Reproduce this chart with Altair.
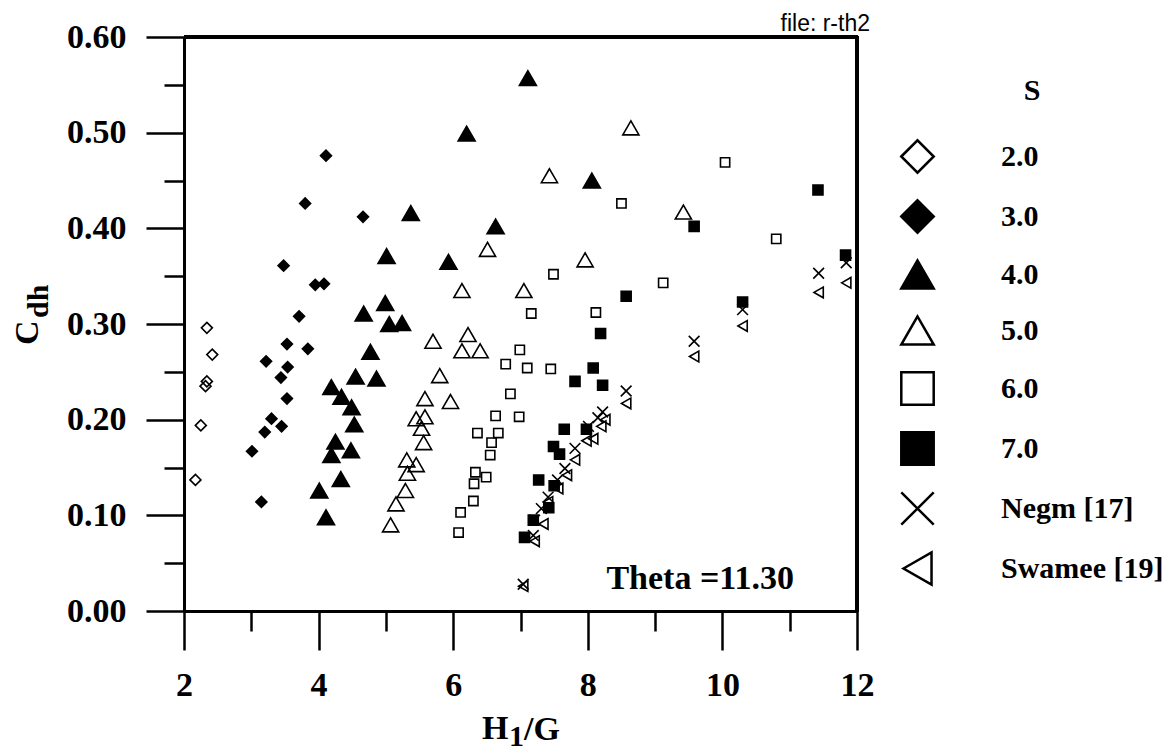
import altair as alt
import pandas as pd

# ---------------- data ----------------
series_names = ["2.0", "3.0", "4.0", "5.0", "6.0", "7.0", "Negm [17]", "Swamee [19]"]

s2_x = [2.34, 2.42, 2.34, 2.32, 2.25, 2.17]
s2_y = [0.296, 0.268, 0.240, 0.235, 0.194, 0.137]

s3_x = [4.11, 3.80, 4.66, 3.48, 3.95, 4.08, 3.71, 3.53, 3.84, 3.22, 3.54, 3.44, 3.53, 3.30, 3.20, 3.45, 3.01, 3.15]
s3_y = [0.476, 0.426, 0.412, 0.361, 0.341, 0.342, 0.308, 0.279, 0.274, 0.261, 0.255, 0.244, 0.222, 0.201, 0.187, 0.193, 0.167, 0.114]

s4_x = [7.11, 6.20, 8.06, 6.63, 5.93, 5.37, 5.01, 4.99, 4.67, 5.05, 5.24, 4.77, 4.55, 4.86, 4.19, 4.34, 4.49, 4.53, 4.25, 4.48, 4.19, 4.33, 4.01, 4.11]
s4_y = [0.557, 0.499, 0.450, 0.402, 0.365, 0.416, 0.371, 0.322, 0.311, 0.300, 0.301, 0.271, 0.245, 0.243, 0.234, 0.224, 0.213, 0.195, 0.177, 0.168, 0.163, 0.138, 0.126, 0.098]

s5_x = [8.64, 7.43, 9.42, 6.51, 7.96, 6.13, 7.05, 6.22, 5.70, 6.13, 6.40, 5.80, 5.96, 5.58, 5.45, 5.58, 5.53, 5.56, 5.31, 5.45, 5.32, 5.29, 5.15, 5.07]
s5_y = [0.505, 0.455, 0.417, 0.378, 0.367, 0.335, 0.335, 0.289, 0.282, 0.272, 0.272, 0.246, 0.219, 0.222, 0.201, 0.203, 0.191, 0.176, 0.158, 0.153, 0.144, 0.126, 0.112, 0.090]

s6_x = [10.04, 8.50, 10.80, 7.49, 9.12, 7.16, 8.12, 6.99, 6.78, 7.10, 7.45, 6.85, 6.63, 6.98, 6.36, 6.67, 6.57, 6.55, 6.33, 6.49, 6.31, 6.30, 6.11, 6.08]
s6_y = [0.469, 0.426, 0.389, 0.352, 0.343, 0.311, 0.312, 0.273, 0.258, 0.254, 0.253, 0.227, 0.204, 0.203, 0.186, 0.186, 0.176, 0.163, 0.145, 0.140, 0.133, 0.115, 0.103, 0.082]

s7_x = [7.06, 7.19, 7.42, 7.27, 7.50, 7.49, 7.58, 7.65, 7.98, 7.81, 8.08, 8.22, 8.19, 8.57, 9.58, 10.30, 11.42, 11.83]
s7_y = [0.077, 0.095, 0.108, 0.137, 0.131, 0.172, 0.164, 0.190, 0.190, 0.240, 0.254, 0.236, 0.290, 0.329, 0.402, 0.323, 0.440, 0.372]

negm_x = [7.04, 7.19, 7.21, 7.31, 7.41, 7.55, 7.66, 7.81, 8.01, 8.15, 8.22, 8.57, 9.58, 10.30, 11.43, 11.84]
negm_y = [0.028, 0.079, 0.095, 0.107, 0.119, 0.137, 0.149, 0.170, 0.193, 0.202, 0.208, 0.230, 0.282, 0.315, 0.353, 0.364]

swamee_x = [7.04, 7.21, 7.34, 7.41, 7.56, 7.69, 7.81, 7.98, 8.08, 8.20, 8.26, 8.57, 9.58, 10.30, 11.43, 11.84]
swamee_y = [0.026, 0.073, 0.091, 0.114, 0.128, 0.142, 0.158, 0.178, 0.180, 0.193, 0.200, 0.217, 0.266, 0.298, 0.333, 0.343]

x_tick_values = [2, 3, 4, 5, 6, 7, 8, 9, 10, 11, 12]
y_tick_values = [0.00, 0.05, 0.10, 0.15, 0.20, 0.25, 0.30, 0.35, 0.40, 0.45, 0.50, 0.55, 0.60]

annot_text = ["Theta =11.30"]
annot_x = [9.67]
annot_y = [0.0225]

# ---------------- styling ----------------
X_PATH = "M-1,-1L1,1M1,-1L-1,1"
shape_range = ["diamond", "diamond", "triangle-up", "triangle-up", "square", "square", X_PATH, "triangle-left"]
fill_range = ["transparent", "black", "black", "transparent", "transparent", "black", "transparent", "transparent"]
stroke_range = ["black"] * 8
marker_sizes = [120, 120, 290, 260, 85, 100, 115, 115]

SERIF = "Liberation Serif"
W, H = 673, 574

xs = [s2_x, s3_x, s4_x, s5_x, s6_x, s7_x, negm_x, swamee_x]
ys = [s2_y, s3_y, s4_y, s5_y, s6_y, s7_y, negm_y, swamee_y]
rows = []
for name, sx, sy in zip(series_names, xs, ys):
    for a, b in zip(sx, sy):
        rows.append({"x": a, "y": b, "S": name})
df = pd.DataFrame(rows)

xscale = alt.Scale(domain=[2, 12], nice=False, zero=False)
yscale = alt.Scale(domain=[0, 0.6], nice=False, zero=True)

x_axis = alt.Axis(
    values=x_tick_values,
    labelExpr="datum.value % 2 == 0 ? datum.value : ''",
    tickSize={"condition": {"test": "datum.value % 2 == 0", "value": 39}, "value": 20},
    title=None, grid=False,
    labelFont=SERIF, labelFontWeight="bold", labelFontSize=34, labelColor="black",
    labelPadding=18, tickWidth=2.5, tickColor="black", domainWidth=3, domainColor="black",
    labelFlush=False, labelOverlap=False,
)
y_axis = alt.Axis(
    values=y_tick_values,
    labelExpr="round(datum.value*100) % 10 == 0 ? format(datum.value, '.2f') : ''",
    tickSize={"condition": {"test": "round(datum.value*100) % 10 == 0", "value": 38}, "value": 20},
    title=None, grid=False,
    labelFont=SERIF, labelFontWeight="bold", labelFontSize=34, labelColor="black",
    labelPadding=20, tickWidth=2.5, tickColor="black", domainWidth=3, domainColor="black",
    labelFlush=False, labelOverlap=False,
)

legend = alt.Legend(
    title="S", orient="none", legendX=716, legendY=39, direction="vertical",
    titleFont=SERIF, titleFontSize=30, titleFontWeight="bold", titleColor="black",
    titleAnchor="middle", titleAlign="center", titlePadding=33, titleBaseline="top",
    labelFont=SERIF, labelFontSize=30, labelFontWeight="bold", labelColor="black",
    labelLimit=400,
    symbolSize=1050, symbolStrokeWidth=2.5,
    labelOffset=66, rowPadding=17, padding=0, symbolOpacity=1,
)

shape_scale = alt.Scale(domain=series_names, range=shape_range)
fill_scale = alt.Scale(domain=series_names, range=fill_range)
stroke_scale = alt.Scale(domain=series_names, range=stroke_range)

point_layers = []
for name, msize in zip(series_names, marker_sizes):
    point_layers.append(
        alt.Chart(df).transform_filter(alt.datum.S == name)
        .mark_point(opacity=1, strokeWidth=1.6, size=msize)
        .encode(
            x=alt.X("x:Q", scale=xscale, axis=x_axis),
            y=alt.Y("y:Q", scale=yscale, axis=y_axis),
            shape=alt.Shape("S:N", scale=shape_scale, legend=legend),
            fill=alt.Fill("S:N", scale=fill_scale, legend=legend),
            stroke=alt.Stroke("S:N", scale=stroke_scale, legend=legend),
        )
    )

right_border = alt.Chart(df).mark_rule(color="black", strokeWidth=3).encode(
    x=alt.value(W), y=alt.value(-1), y2=alt.value(H + 1)
)
top_border = alt.Chart(df).mark_rule(color="black", strokeWidth=3).encode(
    x=alt.value(0), x2=alt.value(W + 1), y=alt.value(0)
)

annot = alt.Chart(pd.DataFrame({"t": annot_text, "x": annot_x, "y": annot_y})).mark_text(
    font=SERIF, fontSize=34, fontWeight="bold", color="black", align="center", baseline="alphabetic"
).encode(x=alt.X("x:Q", scale=xscale), y=alt.Y("y:Q", scale=yscale), text="t:N")

def label(txt, px, py, size=34, font=SERIF, weight="bold", align="left", baseline="alphabetic", angle=0):
    return alt.Chart(pd.DataFrame({"t": [txt]})).mark_text(
        font=font, fontSize=size, fontWeight=weight, color="black", align=align,
        baseline=baseline, angle=angle
    ).encode(x=alt.value(px), y=alt.value(py), text="t:N")

xt_h = label("H", 298, 702)
xt_1 = label("1", 325, 709, size=30)
xt_g = label("/G", 340, 703)
yt_c = label("C", -146, 308, angle=270)
yt_dh = label("dh", -136, 281, size=30, angle=270)
file_lbl = label("file: r-th2", 686, -6, size=23, font="Liberation Sans", weight="normal", align="right")

chart = alt.layer(*point_layers, right_border, top_border, annot, xt_h, xt_1, xt_g, yt_c, yt_dh, file_lbl).properties(
    width=W, height=H,
    autosize=alt.AutoSizeParams(type="none"),
    padding={"left": 184, "top": 37, "right": 1174 - 184 - W, "bottom": 754 - 37 - H},
).configure_view(stroke=None).configure(background="white")

chart.save("out.html", embed_options={"renderer": "svg", "actions": False})
